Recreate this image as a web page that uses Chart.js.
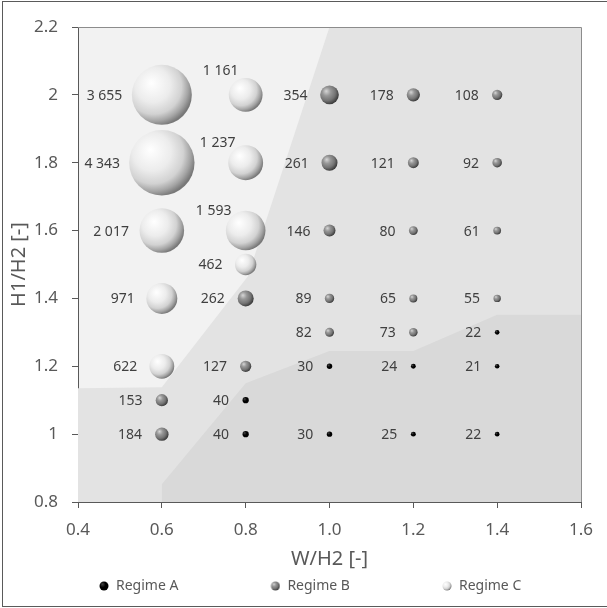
<!DOCTYPE html>
<html>
<head>
<meta charset="utf-8">
<script src="https://cdn.jsdelivr.net/npm/chart.js@4.4.0/dist/chart.umd.min.js"></script>
<style>
  html, body { margin: 0; padding: 0; background: #fff; }
  canvas { display: block; }
</style>
</head>
<body>
<canvas id="chart" width="607" height="608"></canvas>
<script>
const FONT = "'Noto Sans', 'DejaVu Sans', sans-serif";
const TEXT = '#595959';

const xTickLabels = ['0.4', '0.6', '0.8', '1.0', '1.2', '1.4', '1.6'];
const yTickLabels = ['0.8', '1', '1.2', '1.4', '1.6', '1.8', '2', '2.2'];

// Regime A - black dots
const regimeAX = [0.8, 0.8, 1.0, 1.0, 1.2, 1.2, 1.4, 1.4, 1.4];
const regimeAY = [1.1, 1.0, 1.2, 1.0, 1.2, 1.0, 1.3, 1.2, 1.0];
const regimeAVal = [40, 40, 30, 30, 24, 25, 22, 21, 22];

// Regime B - grey spheres
const regimeBX = [0.6, 0.6, 0.8, 0.8, 1.0, 1.0, 1.0, 1.0, 1.0, 1.2, 1.2, 1.2, 1.2, 1.2, 1.4, 1.4, 1.4, 1.4];
const regimeBY = [1.1, 1.0, 1.4, 1.2, 2.0, 1.8, 1.6, 1.4, 1.3, 2.0, 1.8, 1.6, 1.4, 1.3, 2.0, 1.8, 1.6, 1.4];
const regimeBVal = [153, 184, 262, 127, 354, 261, 146, 89, 82, 178, 121, 80, 65, 73, 108, 92, 61, 55];

// Regime C - white spheres
const regimeCX = [0.6, 0.6, 0.6, 0.6, 0.6, 0.8, 0.8, 0.8, 0.8];
const regimeCY = [2.0, 1.8, 1.6, 1.4, 1.2, 2.0, 1.8, 1.6, 1.5];
const regimeCVal = [3655, 4343, 2017, 971, 622, 1161, 1237, 1593, 462];

// shaded zones: border between C/B zone and between B/A zone
const zoneCBX = [0.4, 0.6, 0.805, 1.0, 1.6];
const zoneCBY = [1.135, 1.138, 1.465, 2.2, 2.2];
const zoneBAX = [0.6, 0.6, 0.8, 1.0, 1.2, 1.4, 1.6];
const zoneBAY = [0.8, 0.852, 1.15, 1.245, 1.245, 1.352, 1.352];

// labels moved above-left of their bubble (value -> offset)
const liftedLabels = { 1161: [-25, -24], 1237: [-28, -20], 1593: [-32, -20] };

const SIZE_K = 0.496; // px of radius per sqrt(value), bubble area ~ value
const LEG_W = 99;

const sphereStops = {
  A: [[0, '#444444'], [0.5, '#000000'], [1, '#000000']],
  B: [[0, '#d6d6d6'], [0.35, '#979797'], [0.7, '#747474'], [1, '#3a3a3a']],
  C: [[0, '#ffffff'], [0.45, '#ececec'], [0.72, '#d2d2d2'], [0.88, '#a4a4a4'], [1, '#787878']]
};

function toPoints(xs, ys, vals) {
  return xs.map((x, i) => ({ x: x, y: ys[i], r: SIZE_K * Math.sqrt(vals[i]), v: vals[i] }));
}
function toLine(xs, ys) {
  return xs.map((x, i) => ({ x: x, y: ys[i] }));
}
function fmt(v) {
  return String(v).replace(/\B(?=(\d{3})+(?!\d))/g, ' ');
}

function sphereGradient(g2d, cx, cy, r, stops) {
  const g = g2d.createRadialGradient(cx - 0.35 * r, cy - 0.4 * r, 0, cx - 0.25 * r, cy - 0.25 * r, 1.3 * r);
  stops.forEach(s => g.addColorStop(s[0], s[1]));
  return g;
}

function sphereFill(stops) {
  return c => {
    const p = c.raw;
    const chart = c.chart;
    if (!p || !chart.scales || !chart.scales.x) return stops[1][1];
    const cx = chart.scales.x.getPixelForValue(p.x);
    const cy = chart.scales.y.getPixelForValue(p.y);
    if (!isFinite(cx) || !isFinite(cy) || !isFinite(p.r)) return stops[1][1];
    return sphereGradient(chart.ctx, cx, cy, p.r, stops);
  };
}

function legendBall(stops) {
  const cv = document.createElement('canvas');
  cv.width = LEG_W;
  cv.height = 10;
  const g = cv.getContext('2d');
  const cx = LEG_W - 5, cy = 5, r = 4.5;
  g.fillStyle = sphereGradient(g, cx, cy, r, stops);
  g.beginPath();
  g.arc(cx, cy, r, 0, Math.PI * 2);
  g.fill();
  return cv;
}

const valueLabels = {
  id: 'valueLabels',
  afterDatasetsDraw(chart) {
    const ctx = chart.ctx;
    ctx.save();
    // plot area frame (top and right)
    const a = chart.chartArea;
    ctx.strokeStyle = '#8c8c8c';
    ctx.lineWidth = 1;
    ctx.beginPath();
    ctx.moveTo(Math.round(a.left), Math.round(a.top) + 0.5);
    ctx.lineTo(Math.round(a.right) + 0.5, Math.round(a.top) + 0.5);
    ctx.lineTo(Math.round(a.right) + 0.5, Math.round(a.bottom));
    ctx.stroke();

    ctx.font = '14px ' + FONT;
    ctx.fillStyle = '#404040';
    ctx.textBaseline = 'middle';
    chart.data.datasets.forEach((ds, di) => {
      if (ds.type !== 'bubble') return;
      chart.getDatasetMeta(di).data.forEach((el, i) => {
        const p = ds.data[i];
        const lift = liftedLabels[p.v];
        if (lift) {
          ctx.textAlign = 'center';
          ctx.fillText(fmt(p.v), el.x + lift[0], el.y + lift[1]);
        } else {
          ctx.textAlign = 'right';
          ctx.fillText(fmt(p.v), el.x - p.r - (14 - 0.15 * p.r), el.y + 1);
        }
      });
    });
    ctx.restore();
  },
  beforeDraw(chart) {
    const ctx = chart.ctx;
    const a = chart.chartArea;
    ctx.save();
    ctx.fillStyle = '#f2f2f2';
    ctx.fillRect(a.left, a.top, a.right - a.left, a.bottom - a.top);
    ctx.restore();
  },
  afterDraw(chart) {
    const ctx = chart.ctx;
    ctx.save();
    ctx.strokeStyle = '#5a5a5a';
    ctx.lineWidth = 1;
    ctx.strokeRect(2.5, 1.5, 610, 605);
    ctx.restore();
  }
};

new Chart(document.getElementById('chart'), {
  type: 'bubble',
  data: {
    datasets: [
      {
        type: 'bubble', label: 'Regime A', order: 0,
        data: toPoints(regimeAX, regimeAY, regimeAVal),
        backgroundColor: sphereFill(sphereStops.A), borderWidth: 0
      },
      {
        type: 'bubble', label: 'Regime B', order: 1,
        data: toPoints(regimeBX, regimeBY, regimeBVal),
        backgroundColor: sphereFill(sphereStops.B), borderWidth: 0
      },
      {
        type: 'bubble', label: 'Regime C', order: 2,
        data: toPoints(regimeCX, regimeCY, regimeCVal),
        backgroundColor: sphereFill(sphereStops.C), borderWidth: 0
      },
      {
        type: 'line', label: 'zone A', order: 10,
        data: toLine(zoneBAX, zoneBAY),
        fill: 'start', backgroundColor: '#d9d9d9',
        borderColor: 'rgba(0,0,0,0)', borderWidth: 0, pointRadius: 0, tension: 0
      },
      {
        type: 'line', label: 'zone B', order: 11,
        data: toLine(zoneCBX, zoneCBY),
        fill: 'start', backgroundColor: '#e3e3e3',
        borderColor: 'rgba(0,0,0,0)', borderWidth: 0, pointRadius: 0, tension: 0
      }
    ]
  },
  options: {
    responsive: false,
    animation: false,
    events: [],
    layout: { autoPadding: false, padding: { top: 27, left: 7, right: 26, bottom: 5 } },
    scales: {
      x: {
        type: 'linear', min: 0.4, max: 1.6, z: 1,
        ticks: {
          stepSize: 0.2, padding: 12, color: TEXT,
          font: { family: FONT, size: 17 },
          callback: (v, i) => xTickLabels[i]
        },
        grid: { drawOnChartArea: false, drawTicks: true, tickLength: 6, color: '#595959' },
        border: { display: true, color: '#595959' },
        title: {
          display: true, text: 'W/H2 [-]', color: TEXT,
          font: { family: FONT, size: 20 }, padding: { top: 0, bottom: 5 }
        },
        afterFit: s => { s.height = 74; }
      },
      y: {
        type: 'linear', min: 0.8, max: 2.2, z: 1,
        ticks: {
          stepSize: 0.2, padding: 14, color: TEXT,
          font: { family: FONT, size: 17 },
          callback: (v, i) => yTickLabels[i]
        },
        grid: { drawOnChartArea: false, drawTicks: true, tickLength: 6, color: '#595959' },
        border: { display: true, color: '#595959' },
        title: {
          display: true, text: 'H1/H2 [-]', color: TEXT,
          font: { family: FONT, size: 20 }, padding: { top: 0, bottom: 0 }
        },
        afterFit: s => { s.width = 71; }
      }
    },
    plugins: {
      tooltip: { enabled: false },
      legend: {
        position: 'bottom',
        align: 'start',
        labels: {
          usePointStyle: true,
          pointStyleWidth: LEG_W,
          padding: 3,
          color: TEXT,
          font: { family: FONT, size: 14 },
          generateLabels: () => [
            { text: 'Regime A', pointStyle: legendBall(sphereStops.A), fillStyle: '#000', strokeStyle: 'rgba(0,0,0,0)', lineWidth: 0, hidden: false, datasetIndex: 0, fontColor: TEXT },
            { text: 'Regime B', pointStyle: legendBall(sphereStops.B), fillStyle: '#888', strokeStyle: 'rgba(0,0,0,0)', lineWidth: 0, hidden: false, datasetIndex: 1, fontColor: TEXT },
            { text: 'Regime C', pointStyle: legendBall(sphereStops.C), fillStyle: '#eee', strokeStyle: 'rgba(0,0,0,0)', lineWidth: 0, hidden: false, datasetIndex: 2, fontColor: TEXT }
          ]
        }
      }
    }
  },
  plugins: [valueLabels]
});
</script>
</body>
</html>
